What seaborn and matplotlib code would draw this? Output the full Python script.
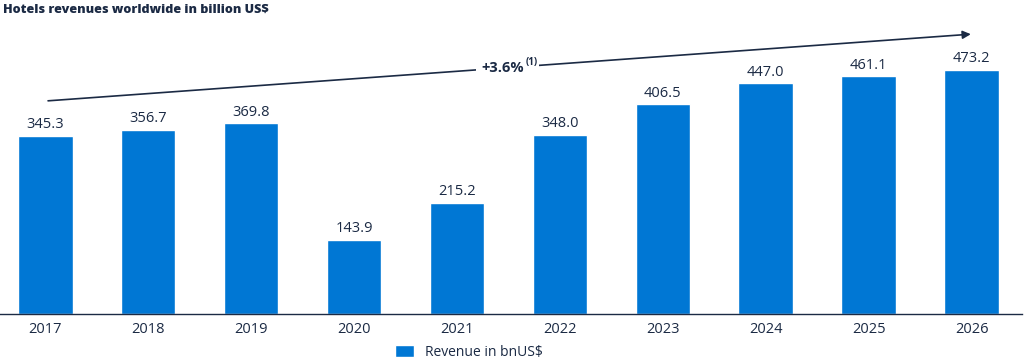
import matplotlib.pyplot as plt
import seaborn as sns
import pandas as pd
from matplotlib.patches import Patch

years = ["2017", "2018", "2019", "2020", "2021", "2022", "2023", "2024", "2025", "2026"]
revenue = [345.3, 356.7, 369.8, 143.9, 215.2, 348.0, 406.5, 447.0, 461.1, 473.2]
cagr_label = "+3.6%"
cagr_note = "(1)"
series_name = "Revenue in bnUS$"
title = "Hotels revenues worldwide in billion US$"

BAR = "#0077d4"
TEXT = "#1b2a44"

sns.set_theme(style="white")
plt.rcParams["font.family"] = ["Open Sans", "DejaVu Sans"]

data = pd.DataFrame({"year": years, "revenue": revenue})

fig = plt.figure(figsize=(10.24, 3.62), dpi=100)
ax = fig.add_axes([0.0, 0.1326, 0.998, 0.812])

sns.barplot(data=data, x="year", y="revenue", color=BAR, width=0.53,
            saturation=1, ax=ax)

for i, v in enumerate(revenue):
    ax.text(i, v + 7, f"{v:.1f}", ha="center", va="bottom", fontsize=10.5, color=TEXT)

ax.set_xlim(-0.44, 9.49)
ax.set_ylim(0, 570)
ax.set_xlabel("")
ax.set_ylabel("")
ax.set_yticks([])
ax.tick_params(axis="x", labelsize=10.5, colors=TEXT, length=0, pad=6)
for s in ["top", "right", "left"]:
    ax.spines[s].set_visible(False)
ax.spines["bottom"].set_color(TEXT)
ax.spines["bottom"].set_linewidth(1.0)

# growth arrow with CAGR label breaking the line
ax.annotate("", xy=(9.02, 543), xytext=(0.0, 413),
            arrowprops=dict(arrowstyle="-|>", color=TEXT, lw=1.2, mutation_scale=12))
lab = ax.text(4.65, 477, cagr_label, ha="right", va="center",
              fontsize=10.5, fontweight="bold", color=TEXT, zorder=5,
              bbox=dict(boxstyle="square,pad=0.35", fc="white", ec="none"))
ax.annotate(cagr_note, xy=(1, 0.5), xycoords=lab, xytext=(1.2, 0),
            textcoords="offset points", ha="left", va="bottom",
            fontsize=7, fontweight="bold", color=TEXT, zorder=7,
            bbox=dict(boxstyle="square,pad=0.15", fc="white", ec="none"))

fig.text(0.003, 0.973, title, ha="left", va="center", fontsize=9.1,
         fontweight="heavy", color=TEXT)

fig.legend(handles=[Patch(facecolor=BAR, label=series_name)], loc="center",
           bbox_to_anchor=(0.458, 0.027), frameon=False, fontsize=10,
           handlelength=1.3, handleheight=0.9, labelcolor=TEXT)

fig.savefig("out.png", dpi=100)
